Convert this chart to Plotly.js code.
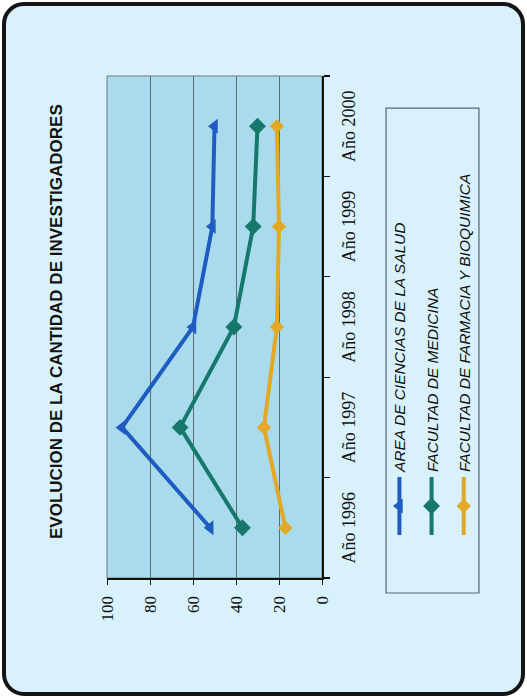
<!DOCTYPE html>
<html>
<head>
<meta charset="utf-8">
<script src="https://cdn.plot.ly/plotly-3.0.1.min.js"></script>
<style>
  html, body { margin: 0; padding: 0; background: #ffffff; }
  #frame {
    position: absolute; left: 2px; top: 2px; width: 515px; height: 686px;
    border: 4px solid #141414; border-radius: 22px; background: #d8f1fa;
  }
  #chart {
    position: absolute; left: 0; top: 0; width: 698px; height: 527px;
    transform-origin: 0 0; transform: translate(0px, 698px) rotate(-90deg);
  }
</style>
</head>
<body>
<div id="frame"></div>
<div id="chart"></div>
<script>
const years = ['Año 1996', 'Año 1997', 'Año 1998', 'Año 1999', 'Año 2000'];
const seriesNames = ['AREA DE CIENCIAS DE LA SALUD', 'FACULTAD DE MEDICINA', 'FACULTAD DE FARMACIA Y BIOQUIMICA'];
const areaSalud = [52, 93, 60, 51, 50];
const medicina = [37, 66, 41, 32, 30];
const farmacia = [17, 27, 21, 20, 21];
const valueTicks = [0, 20, 40, 60, 80, 100];
const chartTitle = 'EVOLUCION DE LA CANTIDAD DE INVESTIGADORES';

const colors = ['#1f5cc2', '#16786a', '#e2a826'];
const symbols = ['triangle-up', 'diamond', 'diamond'];
const sizes = [13, 13, 11];
const values = [areaSalud, medicina, farmacia];

const traces = values.map((v, i) => ({
  type: 'scatter', mode: 'lines+markers',
  x: years, y: v, name: seriesNames[i], legendgroup: 'g' + i,
  line: { color: colors[i], width: 4 },
  marker: { color: colors[i], symbol: symbols[i], size: sizes[i] }
}));

const layout = {
  width: 698, height: 527,
  margin: { l: 120, r: 76, t: 107, b: 205 },
  paper_bgcolor: 'rgba(0,0,0,0)',
  plot_bgcolor: '#a9dbec',
  showlegend: true,
  legend: {
    x: 0.0757, xanchor: 'left', y: -0.283, yanchor: 'top',
    bgcolor: 'rgba(0,0,0,0)', borderwidth: 0,
    itemwidth: 58, tracegroupgap: 9, traceorder: 'grouped',
    font: { family: 'Liberation Sans, Arial, sans-serif', size: 15.5, style: 'italic', color: '#111' }
  },
  xaxis: {
    type: 'category', range: [-0.5, 4.5], tickson: 'boundaries',
    ticks: 'outside', ticklen: 6, tickcolor: '#111', tickwidth: 1.2,
    showline: true, linecolor: '#111', linewidth: 1.6, showgrid: false, zeroline: false,
    ticklabelstandoff: 10,
    tickfont: { family: 'Liberation Serif, Times New Roman, serif', size: 18, color: '#111' }
  },
  yaxis: {
    range: [0, 100], tickvals: valueTicks,
    ticks: 'outside', ticklen: 5, tickcolor: '#111',
    showline: true, linecolor: '#111', linewidth: 1.6,
    showgrid: true, gridcolor: '#5b6c72', gridwidth: 1, zeroline: false,
    ticklabelstandoff: 8,
    tickfont: { family: 'Liberation Serif, Times New Roman, serif', size: 17, color: '#111' }
  },
  shapes: [
    { type: 'rect', xref: 'paper', yref: 'paper', x0: 0, x1: 1, y0: 0, y1: 1,
      line: { color: '#6a7a80', width: 1 }, layer: 'below' },
    { type: 'rect', xref: 'paper', yref: 'paper', x0: -0.0299, x1: 0.936, y0: -0.730, y1: -0.298,
      line: { color: '#55666c', width: 1.2 } }
  ],
  annotations: [
    { text: chartTitle, xref: 'paper', yref: 'paper', x: 0.511, y: 1.237,
      xanchor: 'center', yanchor: 'middle', showarrow: false,
      font: { family: 'Liberation Sans, Arial, sans-serif', size: 17, weight: 'bold', color: '#111' } }
  ]
};

Plotly.newPlot('chart', traces, layout, { displayModeBar: false, staticPlot: true });
</script>
</body>
</html>
